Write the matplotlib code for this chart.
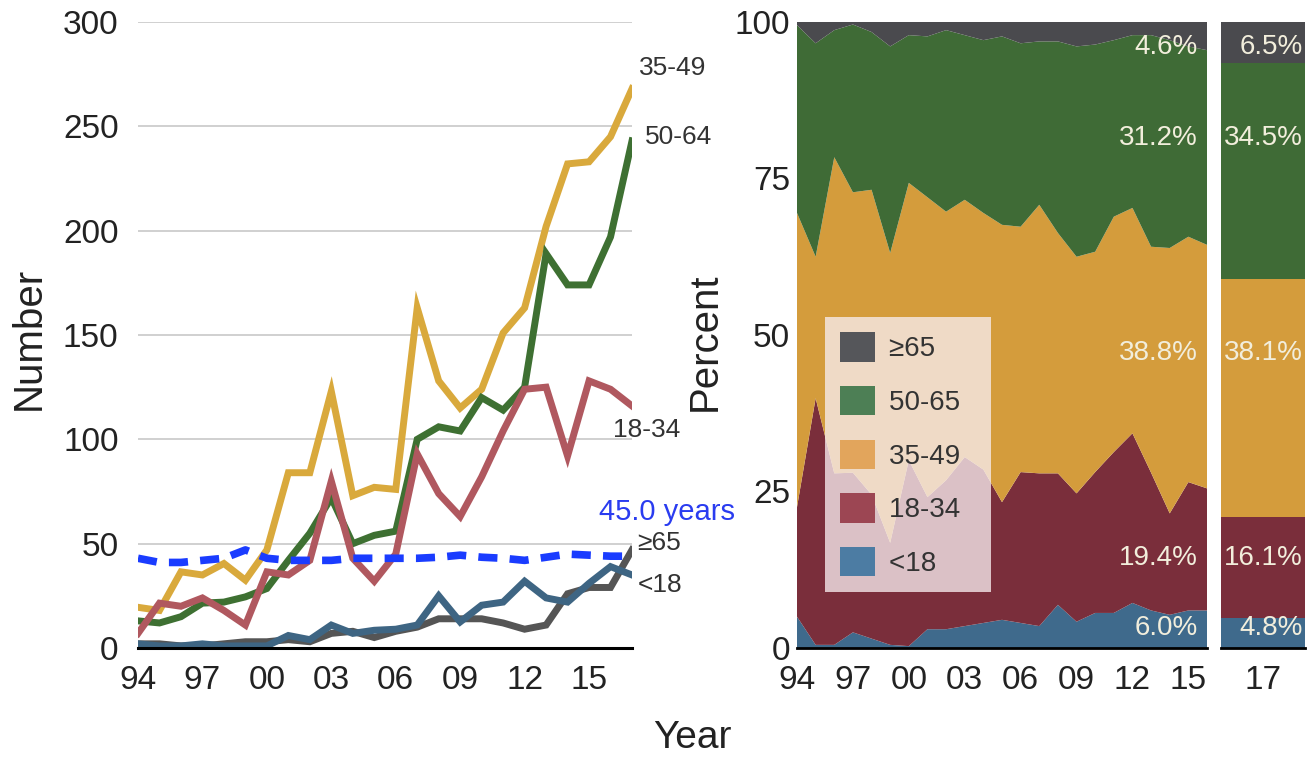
import numpy as np
import matplotlib.pyplot as plt
from matplotlib.patches import Patch

plt.rcParams['font.family'] = ['Liberation Sans', 'DejaVu Sans']

# counts per year (left chart)
years = list(range(1994, 2018))
n_65 = [2, 2, 1, 1, 2, 3, 3, 4, 3, 7, 8, 5, 8, 10, 14, 14, 14, 12, 9, 11, 26, 29, 29, 47]
n_50_64 = [13, 12, 15, 21.5, 22, 24.5, 28.5, 42, 55, 72, 50, 54, 56, 100, 106, 104, 120, 114, 125, 189, 174, 174, 197, 243]
n_35_49 = [19.5, 18, 36.5, 35, 40.5, 32.5, 47, 84, 84, 123, 73, 77, 76, 163, 128, 115, 124, 151, 163, 202, 232, 233, 245, 268]
n_18_34 = [7, 21.5, 20, 24, 18, 11, 36.5, 35, 42, 80, 43, 32, 45, 93, 74, 63, 82, 104, 124, 125, 92, 128, 124, 116]
n_u18 = [2, 1, 1, 2, 1, 1, 1, 6, 4, 11, 7, 8.5, 9, 11, 25, 12.5, 20.5, 22, 32, 24, 22, 31, 39, 35]
mean_age = [43, 41, 41, 42, 43, 47, 43, 42, 42, 42, 43, 43, 43, 43, 43.5, 44.5, 43.5, 43, 42, 43.5, 45, 44.5, 44, 44]

# percent shares per year 1994-2016 (right chart)
pct_years = list(range(1994, 2017))
pct_u18 = [5.0, 0.5, 0.5, 2.5, 1.5, 0.5, 0.3, 3.0, 3.0, 3.5, 4.0, 4.5, 4.0, 3.5, 6.9, 4.2, 5.6, 5.6, 7.2, 6.0, 5.3, 6.0, 6.0]
pct_18_34 = [17.5, 39.4, 27.4, 25.5, 23.0, 16.3, 29.7, 21.1, 23.8, 27.0, 24.5, 18.8, 24.1, 24.4, 21.0, 20.5, 22.5, 25.7, 27.1, 22.0, 16.2, 20.5, 19.5]
pct_35_49 = [47.0, 22.6, 50.5, 44.8, 48.7, 46.3, 44.3, 47.9, 42.9, 41.1, 41.0, 44.3, 39.2, 42.9, 38.4, 37.8, 35.2, 37.6, 36.0, 36.1, 42.4, 39.2, 38.9]
pct_50_64 = [30.0, 34.1, 20.3, 26.8, 25.2, 33.0, 23.6, 25.7, 29.0, 26.3, 27.6, 30.1, 29.3, 26.1, 30.6, 33.6, 33.1, 28.2, 27.6, 33.8, 33.2, 30.4, 31.1]
pct_65 = [0.5, 3.4, 1.3, 0.4, 1.6, 3.9, 2.1, 2.3, 1.3, 2.1, 2.9, 2.3, 3.4, 3.1, 3.1, 3.9, 3.6, 2.9, 2.1, 2.1, 2.9, 3.9, 4.5]

# 2017 shares
pct_2017 = [4.8, 16.1, 38.1, 34.5, 6.5]

groups = ['<18', '18-34', '35-49', '50-65', '≥65']
totals_9416 = ['6.0%', '19.4%', '38.8%', '31.2%', '4.6%']
totals_17 = ['4.8%', '16.1%', '38.1%', '34.5%', '6.5%']
label_y = [3.2, 14.4, 47.1, 81.5, 96.0]

tick_years = [1994, 1997, 2000, 2003, 2006, 2009, 2012, 2015]
tick_labels = ['94', '97', '00', '03', '06', '09', '12', '15']

area_colors = ['#3f6a8c', '#7a2e3b', '#d49c3c', '#3f6b36', '#4a4a4e']
swatch_colors = ['#4c7ca3', '#9c4653', '#e2a55c', '#4d7f55', '#55565a']

fig = plt.figure(figsize=(13.15, 7.58), dpi=100)

# ---- left: counts ----
ax = fig.add_axes([138 / 1315, 1 - 648 / 758, 494 / 1315, 626 / 758])
ax.set_xlim(1994, 2017)
ax.set_ylim(0, 300)
ax.set_yticks(range(0, 301, 50))
ax.yaxis.grid(True, color='#c8c8c8', linewidth=1.2)
ax.set_axisbelow(True)
for s in ['top', 'right', 'left']:
    ax.spines[s].set_visible(False)
ax.spines['bottom'].set_color('black')
ax.spines['bottom'].set_linewidth(2.2)
ax.tick_params(length=0, labelsize=24, colors='#222222')
ax.tick_params(axis='y', pad=14)
ax.tick_params(axis='x', pad=12)
ax.set_xticks(tick_years)
ax.set_xticklabels(tick_labels)

lw = 5
ax.plot(years, n_35_49, color='#d9a93c', lw=lw, solid_joinstyle='miter')
ax.plot(years, n_50_64, color='#3e7032', lw=lw, solid_joinstyle='miter')
ax.plot(years, n_18_34, color='#b0585f', lw=lw, solid_joinstyle='miter')
ax.plot(years, n_65, color='#555555', lw=lw, solid_joinstyle='miter')
ax.plot(years, n_u18, color='#3e6583', lw=lw, solid_joinstyle='miter')
ax.plot(years, mean_age, color='#1a3cff', lw=5.5, dashes=(2.5, 1.6))

lab = dict(fontsize=19, color='#333333', annotation_clip=False, textcoords='offset points', va='center', ha='left')
ax.annotate('35-49', (years[-1], n_35_49[-1]), xytext=(5, 15), **lab)
ax.annotate('50-64', (years[-1], n_50_64[-1]), xytext=(9, 3), **lab)
ax.annotate('18-34', (years[-1], n_18_34[-1]), xytext=(-14, -17), **lab)
ax.annotate('≥65', (years[-1], n_65[-1]), xytext=(4, 5), **lab)
ax.annotate('<18', (years[-1], n_u18[-1]), xytext=(4, -7), **lab)
ax.annotate('%.1f years' % 45.0, (years[-1], mean_age[-1]), xytext=(25, 32),
            textcoords='offset points', ha='center', va='center',
            fontsize=21, color='#2a3cf0', annotation_clip=False)
ax.set_ylabel('Number', fontsize=29, color='#222222')
ax.yaxis.set_label_coords(-0.182, 0.495)

# ---- right: percent stack ----
ax2 = fig.add_axes([797 / 1315, 1 - 648 / 758, 410 / 1315, 626 / 758])
ax2.stackplot(pct_years, pct_u18, pct_18_34, pct_35_49, pct_50_64, pct_65,
              colors=area_colors, linewidth=0)
ax2.set_xlim(1994, 2016)
ax2.set_ylim(0, 100)
ax2.set_yticks([0, 25, 50, 75, 100])
ax2.set_xticks(tick_years)
ax2.set_xticklabels(tick_labels)
for s in ['top', 'right', 'left']:
    ax2.spines[s].set_visible(False)
ax2.spines['bottom'].set_linewidth(2)
ax2.tick_params(length=0, labelsize=24, colors='#222222')
ax2.tick_params(axis='y', pad=5)
ax2.tick_params(axis='x', pad=12)
ax2.set_ylabel('Percent', fontsize=29, color='#222222')
ax2.yaxis.set_label_coords(-0.178, 0.49)
for txt, yv in zip(totals_9416, label_y):
    ax2.text(0.978, yv, txt, transform=ax2.get_yaxis_transform(), ha='right', va='center',
             fontsize=20, color='#f2eedc')

handles = [Patch(facecolor=c, edgecolor='none') for c in swatch_colors[::-1]]
leg = ax2.legend(handles, [g + '  ' for g in groups[::-1]], loc='lower left',
                 bbox_to_anchor=(0.068, 0.089),
                 fontsize=20, frameon=True, fancybox=False, framealpha=0.78,
                 facecolor='#f7ecee', edgecolor='none', handlelength=1.25, handleheight=1.25,
                 labelspacing=0.85, borderpad=0.55, handletextpad=0.5, borderaxespad=0)
for t in leg.get_texts():
    t.set_color('#333333')

# ---- 2017 column ----
ax3 = fig.add_axes([1221 / 1315, 1 - 648 / 758, 84 / 1315, 626 / 758])
bottoms = np.concatenate([[0], np.cumsum(pct_2017)[:-1]])
ax3.bar([2017] * 5, pct_2017, bottom=bottoms, width=1.0, color=area_colors, linewidth=0)
ax3.set_xlim(2016.5, 2017.5)
ax3.set_ylim(0, 100)
ax3.set_yticks([])
ax3.set_xticks([2017])
ax3.set_xticklabels(['17'])
for s in ['top', 'right', 'left']:
    ax3.spines[s].set_visible(False)
ax3.spines['bottom'].set_linewidth(2)
ax3.tick_params(length=0, labelsize=24, colors='#222222', pad=12)
for txt, yv in zip(totals_17, label_y):
    ax3.text(0.97, yv, txt, transform=ax3.get_yaxis_transform(), ha='right', va='center',
             fontsize=20, color='#f2eedc')

fig.text(692 / 1315, 1 - 738 / 758, 'Year', ha='center', va='center', fontsize=28, color='#222222')

fig.savefig('out.png', dpi=100)
